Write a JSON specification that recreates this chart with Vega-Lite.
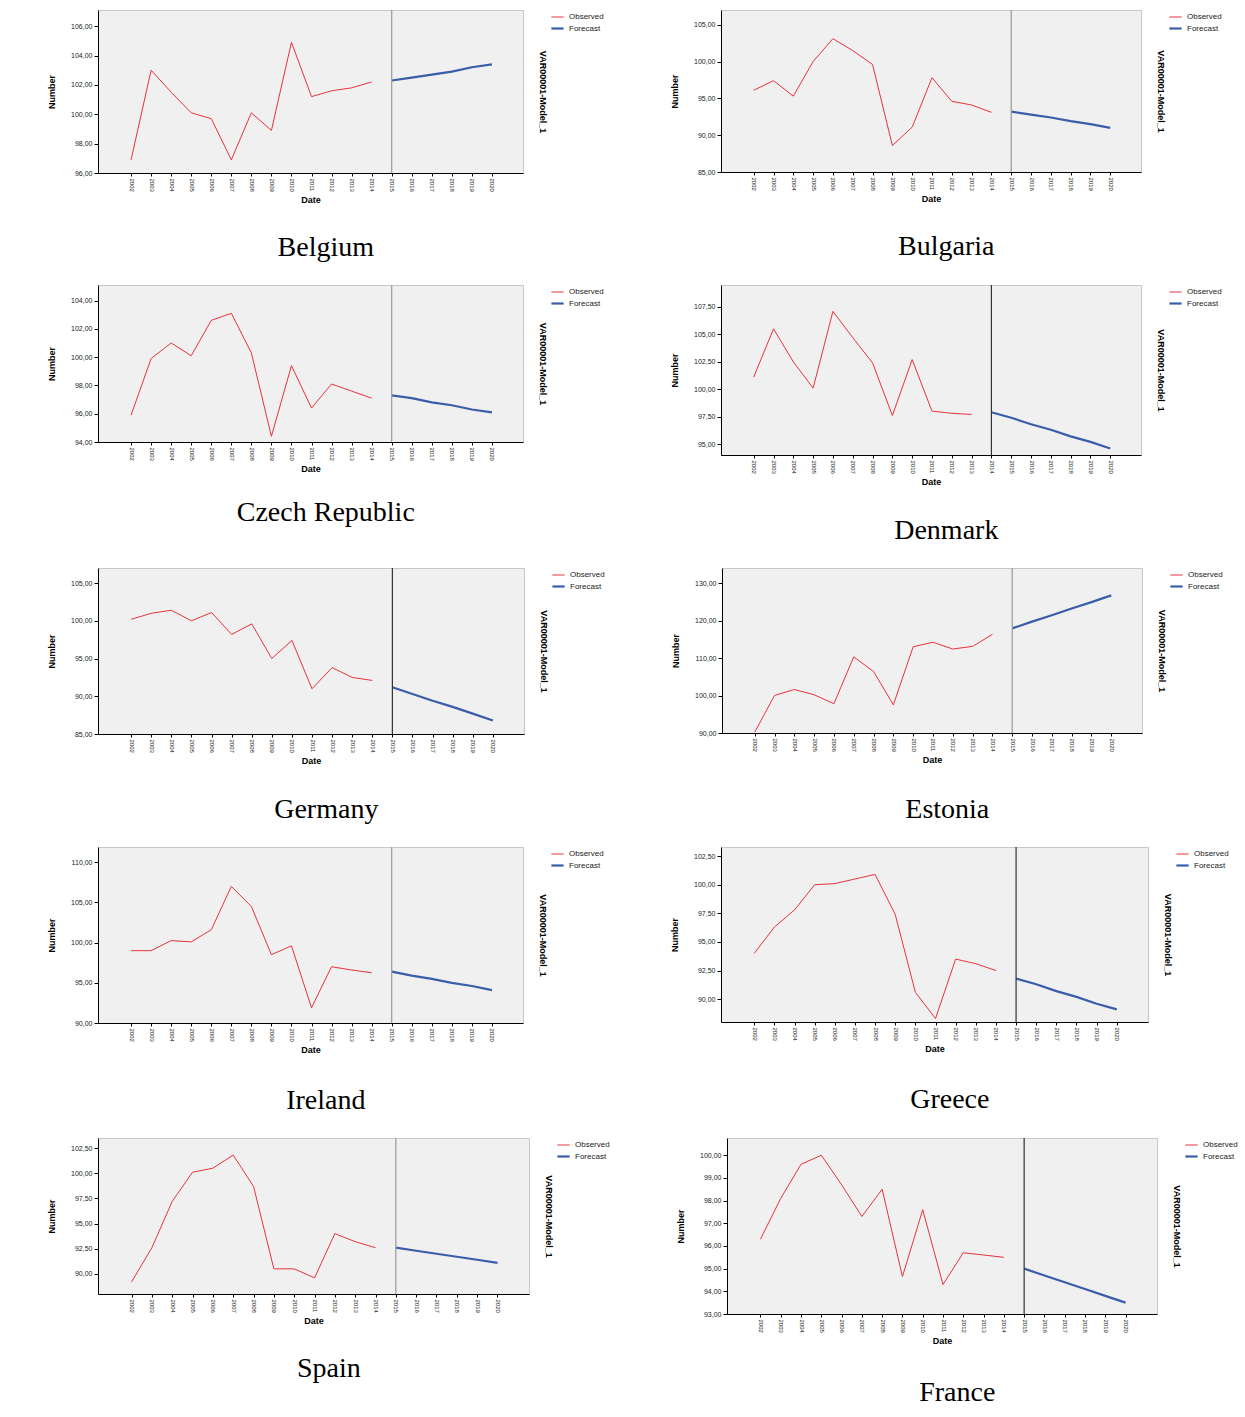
{
"$schema": "https://vega.github.io/schema/vega-lite/v6.json",
"background": "white",
"padding": {"left": 47, "top": 8, "right": 0, "bottom": 0},
"datasets": {"d": [
{"country":"Belgium","year":2002,"value":96.9,"series":"Observed"},
{"country":"Belgium","year":2003,"value":103.0,"series":"Observed"},
{"country":"Belgium","year":2004,"value":101.5,"series":"Observed"},
{"country":"Belgium","year":2005,"value":100.1,"series":"Observed"},
{"country":"Belgium","year":2006,"value":99.7,"series":"Observed"},
{"country":"Belgium","year":2007,"value":96.9,"series":"Observed"},
{"country":"Belgium","year":2008,"value":100.1,"series":"Observed"},
{"country":"Belgium","year":2009,"value":98.9,"series":"Observed"},
{"country":"Belgium","year":2010,"value":104.9,"series":"Observed"},
{"country":"Belgium","year":2011,"value":101.2,"series":"Observed"},
{"country":"Belgium","year":2012,"value":101.6,"series":"Observed"},
{"country":"Belgium","year":2013,"value":101.8,"series":"Observed"},
{"country":"Belgium","year":2014,"value":102.2,"series":"Observed"},
{"country":"Belgium","year":2015,"value":102.3,"series":"Forecast"},
{"country":"Belgium","year":2016,"value":102.5,"series":"Forecast"},
{"country":"Belgium","year":2017,"value":102.7,"series":"Forecast"},
{"country":"Belgium","year":2018,"value":102.9,"series":"Forecast"},
{"country":"Belgium","year":2019,"value":103.2,"series":"Forecast"},
{"country":"Belgium","year":2020,"value":103.4,"series":"Forecast"},
{"country":"Bulgaria","year":2002,"value":96.1,"series":"Observed"},
{"country":"Bulgaria","year":2003,"value":97.4,"series":"Observed"},
{"country":"Bulgaria","year":2004,"value":95.3,"series":"Observed"},
{"country":"Bulgaria","year":2005,"value":100.0,"series":"Observed"},
{"country":"Bulgaria","year":2006,"value":103.1,"series":"Observed"},
{"country":"Bulgaria","year":2007,"value":101.5,"series":"Observed"},
{"country":"Bulgaria","year":2008,"value":99.6,"series":"Observed"},
{"country":"Bulgaria","year":2009,"value":88.6,"series":"Observed"},
{"country":"Bulgaria","year":2010,"value":91.1,"series":"Observed"},
{"country":"Bulgaria","year":2011,"value":97.8,"series":"Observed"},
{"country":"Bulgaria","year":2012,"value":94.6,"series":"Observed"},
{"country":"Bulgaria","year":2013,"value":94.1,"series":"Observed"},
{"country":"Bulgaria","year":2014,"value":93.1,"series":"Observed"},
{"country":"Bulgaria","year":2015,"value":93.2,"series":"Forecast"},
{"country":"Bulgaria","year":2016,"value":92.8,"series":"Forecast"},
{"country":"Bulgaria","year":2017,"value":92.4,"series":"Forecast"},
{"country":"Bulgaria","year":2018,"value":91.9,"series":"Forecast"},
{"country":"Bulgaria","year":2019,"value":91.5,"series":"Forecast"},
{"country":"Bulgaria","year":2020,"value":91.0,"series":"Forecast"},
{"country":"Czech Republic","year":2002,"value":95.9,"series":"Observed"},
{"country":"Czech Republic","year":2003,"value":99.9,"series":"Observed"},
{"country":"Czech Republic","year":2004,"value":101.0,"series":"Observed"},
{"country":"Czech Republic","year":2005,"value":100.1,"series":"Observed"},
{"country":"Czech Republic","year":2006,"value":102.6,"series":"Observed"},
{"country":"Czech Republic","year":2007,"value":103.1,"series":"Observed"},
{"country":"Czech Republic","year":2008,"value":100.3,"series":"Observed"},
{"country":"Czech Republic","year":2009,"value":94.4,"series":"Observed"},
{"country":"Czech Republic","year":2010,"value":99.4,"series":"Observed"},
{"country":"Czech Republic","year":2011,"value":96.4,"series":"Observed"},
{"country":"Czech Republic","year":2012,"value":98.1,"series":"Observed"},
{"country":"Czech Republic","year":2013,"value":97.6,"series":"Observed"},
{"country":"Czech Republic","year":2014,"value":97.1,"series":"Observed"},
{"country":"Czech Republic","year":2015,"value":97.3,"series":"Forecast"},
{"country":"Czech Republic","year":2016,"value":97.1,"series":"Forecast"},
{"country":"Czech Republic","year":2017,"value":96.8,"series":"Forecast"},
{"country":"Czech Republic","year":2018,"value":96.6,"series":"Forecast"},
{"country":"Czech Republic","year":2019,"value":96.3,"series":"Forecast"},
{"country":"Czech Republic","year":2020,"value":96.1,"series":"Forecast"},
{"country":"Denmark","year":2002,"value":101.1,"series":"Observed"},
{"country":"Denmark","year":2003,"value":105.5,"series":"Observed"},
{"country":"Denmark","year":2004,"value":102.5,"series":"Observed"},
{"country":"Denmark","year":2005,"value":100.1,"series":"Observed"},
{"country":"Denmark","year":2006,"value":107.1,"series":"Observed"},
{"country":"Denmark","year":2007,"value":104.7,"series":"Observed"},
{"country":"Denmark","year":2008,"value":102.4,"series":"Observed"},
{"country":"Denmark","year":2009,"value":97.6,"series":"Observed"},
{"country":"Denmark","year":2010,"value":102.7,"series":"Observed"},
{"country":"Denmark","year":2011,"value":98.0,"series":"Observed"},
{"country":"Denmark","year":2012,"value":97.8,"series":"Observed"},
{"country":"Denmark","year":2013,"value":97.7,"series":"Observed"},
{"country":"Denmark","year":2014,"value":97.9,"series":"Forecast"},
{"country":"Denmark","year":2015,"value":97.4,"series":"Forecast"},
{"country":"Denmark","year":2016,"value":96.8,"series":"Forecast"},
{"country":"Denmark","year":2017,"value":96.3,"series":"Forecast"},
{"country":"Denmark","year":2018,"value":95.7,"series":"Forecast"},
{"country":"Denmark","year":2019,"value":95.2,"series":"Forecast"},
{"country":"Denmark","year":2020,"value":94.6,"series":"Forecast"},
{"country":"Germany","year":2002,"value":100.2,"series":"Observed"},
{"country":"Germany","year":2003,"value":101.0,"series":"Observed"},
{"country":"Germany","year":2004,"value":101.4,"series":"Observed"},
{"country":"Germany","year":2005,"value":100.0,"series":"Observed"},
{"country":"Germany","year":2006,"value":101.1,"series":"Observed"},
{"country":"Germany","year":2007,"value":98.2,"series":"Observed"},
{"country":"Germany","year":2008,"value":99.6,"series":"Observed"},
{"country":"Germany","year":2009,"value":95.0,"series":"Observed"},
{"country":"Germany","year":2010,"value":97.4,"series":"Observed"},
{"country":"Germany","year":2011,"value":91.0,"series":"Observed"},
{"country":"Germany","year":2012,"value":93.8,"series":"Observed"},
{"country":"Germany","year":2013,"value":92.5,"series":"Observed"},
{"country":"Germany","year":2014,"value":92.1,"series":"Observed"},
{"country":"Germany","year":2015,"value":91.2,"series":"Forecast"},
{"country":"Germany","year":2016,"value":90.3,"series":"Forecast"},
{"country":"Germany","year":2017,"value":89.4,"series":"Forecast"},
{"country":"Germany","year":2018,"value":88.6,"series":"Forecast"},
{"country":"Germany","year":2019,"value":87.7,"series":"Forecast"},
{"country":"Germany","year":2020,"value":86.8,"series":"Forecast"},
{"country":"Estonia","year":2002,"value":90.2,"series":"Observed"},
{"country":"Estonia","year":2003,"value":100.0,"series":"Observed"},
{"country":"Estonia","year":2004,"value":101.6,"series":"Observed"},
{"country":"Estonia","year":2005,"value":100.2,"series":"Observed"},
{"country":"Estonia","year":2006,"value":97.8,"series":"Observed"},
{"country":"Estonia","year":2007,"value":110.3,"series":"Observed"},
{"country":"Estonia","year":2008,"value":106.4,"series":"Observed"},
{"country":"Estonia","year":2009,"value":97.5,"series":"Observed"},
{"country":"Estonia","year":2010,"value":113.0,"series":"Observed"},
{"country":"Estonia","year":2011,"value":114.2,"series":"Observed"},
{"country":"Estonia","year":2012,"value":112.4,"series":"Observed"},
{"country":"Estonia","year":2013,"value":113.1,"series":"Observed"},
{"country":"Estonia","year":2014,"value":116.3,"series":"Observed"},
{"country":"Estonia","year":2015,"value":117.9,"series":"Forecast"},
{"country":"Estonia","year":2016,"value":119.7,"series":"Forecast"},
{"country":"Estonia","year":2017,"value":121.4,"series":"Forecast"},
{"country":"Estonia","year":2018,"value":123.2,"series":"Forecast"},
{"country":"Estonia","year":2019,"value":124.9,"series":"Forecast"},
{"country":"Estonia","year":2020,"value":126.7,"series":"Forecast"},
{"country":"Ireland","year":2002,"value":99.0,"series":"Observed"},
{"country":"Ireland","year":2003,"value":99.0,"series":"Observed"},
{"country":"Ireland","year":2004,"value":100.25,"series":"Observed"},
{"country":"Ireland","year":2005,"value":100.1,"series":"Observed"},
{"country":"Ireland","year":2006,"value":101.6,"series":"Observed"},
{"country":"Ireland","year":2007,"value":107.0,"series":"Observed"},
{"country":"Ireland","year":2008,"value":104.5,"series":"Observed"},
{"country":"Ireland","year":2009,"value":98.5,"series":"Observed"},
{"country":"Ireland","year":2010,"value":99.6,"series":"Observed"},
{"country":"Ireland","year":2011,"value":91.9,"series":"Observed"},
{"country":"Ireland","year":2012,"value":97.0,"series":"Observed"},
{"country":"Ireland","year":2013,"value":96.6,"series":"Observed"},
{"country":"Ireland","year":2014,"value":96.25,"series":"Observed"},
{"country":"Ireland","year":2015,"value":96.4,"series":"Forecast"},
{"country":"Ireland","year":2016,"value":95.9,"series":"Forecast"},
{"country":"Ireland","year":2017,"value":95.5,"series":"Forecast"},
{"country":"Ireland","year":2018,"value":95.0,"series":"Forecast"},
{"country":"Ireland","year":2019,"value":94.6,"series":"Forecast"},
{"country":"Ireland","year":2020,"value":94.1,"series":"Forecast"},
{"country":"Greece","year":2002,"value":94.0,"series":"Observed"},
{"country":"Greece","year":2003,"value":96.3,"series":"Observed"},
{"country":"Greece","year":2004,"value":97.8,"series":"Observed"},
{"country":"Greece","year":2005,"value":100.0,"series":"Observed"},
{"country":"Greece","year":2006,"value":100.1,"series":"Observed"},
{"country":"Greece","year":2007,"value":100.5,"series":"Observed"},
{"country":"Greece","year":2008,"value":100.9,"series":"Observed"},
{"country":"Greece","year":2009,"value":97.4,"series":"Observed"},
{"country":"Greece","year":2010,"value":90.6,"series":"Observed"},
{"country":"Greece","year":2011,"value":88.3,"series":"Observed"},
{"country":"Greece","year":2012,"value":93.5,"series":"Observed"},
{"country":"Greece","year":2013,"value":93.1,"series":"Observed"},
{"country":"Greece","year":2014,"value":92.5,"series":"Observed"},
{"country":"Greece","year":2015,"value":91.8,"series":"Forecast"},
{"country":"Greece","year":2016,"value":91.3,"series":"Forecast"},
{"country":"Greece","year":2017,"value":90.7,"series":"Forecast"},
{"country":"Greece","year":2018,"value":90.2,"series":"Forecast"},
{"country":"Greece","year":2019,"value":89.6,"series":"Forecast"},
{"country":"Greece","year":2020,"value":89.1,"series":"Forecast"},
{"country":"Spain","year":2002,"value":89.2,"series":"Observed"},
{"country":"Spain","year":2003,"value":92.6,"series":"Observed"},
{"country":"Spain","year":2004,"value":97.2,"series":"Observed"},
{"country":"Spain","year":2005,"value":100.1,"series":"Observed"},
{"country":"Spain","year":2006,"value":100.5,"series":"Observed"},
{"country":"Spain","year":2007,"value":101.8,"series":"Observed"},
{"country":"Spain","year":2008,"value":98.7,"series":"Observed"},
{"country":"Spain","year":2009,"value":90.5,"series":"Observed"},
{"country":"Spain","year":2010,"value":90.5,"series":"Observed"},
{"country":"Spain","year":2011,"value":89.6,"series":"Observed"},
{"country":"Spain","year":2012,"value":94.0,"series":"Observed"},
{"country":"Spain","year":2013,"value":93.2,"series":"Observed"},
{"country":"Spain","year":2014,"value":92.6,"series":"Observed"},
{"country":"Spain","year":2015,"value":92.6,"series":"Forecast"},
{"country":"Spain","year":2016,"value":92.3,"series":"Forecast"},
{"country":"Spain","year":2017,"value":92.0,"series":"Forecast"},
{"country":"Spain","year":2018,"value":91.7,"series":"Forecast"},
{"country":"Spain","year":2019,"value":91.4,"series":"Forecast"},
{"country":"Spain","year":2020,"value":91.1,"series":"Forecast"},
{"country":"France","year":2002,"value":96.3,"series":"Observed"},
{"country":"France","year":2003,"value":98.1,"series":"Observed"},
{"country":"France","year":2004,"value":99.6,"series":"Observed"},
{"country":"France","year":2005,"value":100.0,"series":"Observed"},
{"country":"France","year":2006,"value":98.7,"series":"Observed"},
{"country":"France","year":2007,"value":97.3,"series":"Observed"},
{"country":"France","year":2008,"value":98.5,"series":"Observed"},
{"country":"France","year":2009,"value":94.65,"series":"Observed"},
{"country":"France","year":2010,"value":97.6,"series":"Observed"},
{"country":"France","year":2011,"value":94.3,"series":"Observed"},
{"country":"France","year":2012,"value":95.7,"series":"Observed"},
{"country":"France","year":2013,"value":95.6,"series":"Observed"},
{"country":"France","year":2014,"value":95.5,"series":"Observed"},
{"country":"France","year":2015,"value":95.0,"series":"Forecast"},
{"country":"France","year":2016,"value":94.7,"series":"Forecast"},
{"country":"France","year":2017,"value":94.4,"series":"Forecast"},
{"country":"France","year":2018,"value":94.1,"series":"Forecast"},
{"country":"France","year":2019,"value":93.8,"series":"Forecast"},
{"country":"France","year":2020,"value":93.5,"series":"Forecast"}
]},
"data": {"name": "d"},
"spacing": 20,
"resolve": {"scale": {"color": "independent", "strokeWidth": "independent"}},
"vconcat": [
{"hconcat": [
{"title": {"text": "Belgium", "offset": 30}, "width": 425, "height": 163, "transform": [{"filter": "datum.country === 'Belgium'"}],
 "layer": [
  {"mark": {"type": "line"}, "encoding": {"x": {"field": "year", "type": "quantitative", "scale": {"domain": [2000.35, 2021.55], "nice": false, "zero": false}, "title": "Date", "axis": {"values": [2002,2003,2004,2005,2006,2007,2008,2009,2010,2011,2012,2013,2014,2015,2016,2017,2018,2019,2020], "labelOverlap": false, "tickCount": 19}},
   "y": {"field": "value", "type": "quantitative", "title": "Number", "scale": {"domain": [96, 107.1], "nice": false, "zero": false}, "axis": {"values": [96,98,100,102,104,106]}},
   "color": {"field": "series", "type": "nominal", "scale": {"domain": ["Observed","Forecast"], "range": ["#e8323c","#3a5daa"]}},
   "strokeWidth": {"field": "series", "type": "nominal", "scale": {"domain": ["Observed","Forecast"], "range": [1,2.2]}}}},
  {"transform": [{"filter": "datum.series === 'Forecast'"}, {"aggregate": [{"op": "min", "field": "year", "as": "year"}]}], "mark": {"type": "rule", "color": "#999999", "strokeWidth": 1.2}, "encoding": {"x": {"field": "year", "type": "quantitative", "title": "Date", "axis": {"values": [2002,2003,2004,2005,2006,2007,2008,2009,2010,2011,2012,2013,2014,2015,2016,2017,2018,2019,2020], "labelOverlap": false, "tickCount": 19}}}},
  {"mark": {"type": "point", "opacity": 0}, "encoding": {"x": {"field": "year", "type": "quantitative", "title": "Date", "axis": {"values": [2002,2003,2004,2005,2006,2007,2008,2009,2010,2011,2012,2013,2014,2015,2016,2017,2018,2019,2020], "labelOverlap": false, "tickCount": 19}}, "y": {"field": "value", "type": "quantitative", "axis": {"orient": "right", "title": "VAR00001-Model_1", "labels": false, "ticks": false, "domain": false}}}}
 ], "resolve": {"axis": {"y": "independent"}}},
{"title": {"text": "Bulgaria", "offset": 30}, "width": 420, "height": 162, "transform": [{"filter": "datum.country === 'Bulgaria'"}],
 "layer": [
  {"mark": {"type": "line"}, "encoding": {"x": {"field": "year", "type": "quantitative", "scale": {"domain": [2000.35, 2021.55], "nice": false, "zero": false}, "title": "Date", "axis": {"values": [2002,2003,2004,2005,2006,2007,2008,2009,2010,2011,2012,2013,2014,2015,2016,2017,2018,2019,2020], "labelOverlap": false, "tickCount": 19}},
   "y": {"field": "value", "type": "quantitative", "title": "Number", "scale": {"domain": [85, 107], "nice": false, "zero": false}, "axis": {"values": [85,90,95,100,105]}},
   "color": {"field": "series", "type": "nominal", "scale": {"domain": ["Observed","Forecast"], "range": ["#e8323c","#3a5daa"]}},
   "strokeWidth": {"field": "series", "type": "nominal", "scale": {"domain": ["Observed","Forecast"], "range": [1,2.2]}}}},
  {"transform": [{"filter": "datum.series === 'Forecast'"}, {"aggregate": [{"op": "min", "field": "year", "as": "year"}]}], "mark": {"type": "rule", "color": "#999999", "strokeWidth": 1.2}, "encoding": {"x": {"field": "year", "type": "quantitative", "title": "Date", "axis": {"values": [2002,2003,2004,2005,2006,2007,2008,2009,2010,2011,2012,2013,2014,2015,2016,2017,2018,2019,2020], "labelOverlap": false, "tickCount": 19}}}},
  {"mark": {"type": "point", "opacity": 0}, "encoding": {"x": {"field": "year", "type": "quantitative", "title": "Date", "axis": {"values": [2002,2003,2004,2005,2006,2007,2008,2009,2010,2011,2012,2013,2014,2015,2016,2017,2018,2019,2020], "labelOverlap": false, "tickCount": 19}}, "y": {"field": "value", "type": "quantitative", "axis": {"orient": "right", "title": "VAR00001-Model_1", "labels": false, "ticks": false, "domain": false}}}}
 ], "resolve": {"axis": {"y": "independent"}}}
], "spacing": 65, "resolve": {"scale": {"color": "independent", "strokeWidth": "independent"}}},
{"hconcat": [
{"title": {"text": "Czech Republic", "offset": 26}, "width": 425, "height": 157, "transform": [{"filter": "datum.country === 'Czech Republic'"}],
 "layer": [
  {"mark": {"type": "line"}, "encoding": {"x": {"field": "year", "type": "quantitative", "scale": {"domain": [2000.35, 2021.55], "nice": false, "zero": false}, "title": "Date", "axis": {"values": [2002,2003,2004,2005,2006,2007,2008,2009,2010,2011,2012,2013,2014,2015,2016,2017,2018,2019,2020], "labelOverlap": false, "tickCount": 19}},
   "y": {"field": "value", "type": "quantitative", "title": "Number", "scale": {"domain": [94, 105.1], "nice": false, "zero": false}, "axis": {"values": [94,96,98,100,102,104]}},
   "color": {"field": "series", "type": "nominal", "scale": {"domain": ["Observed","Forecast"], "range": ["#e8323c","#3a5daa"]}},
   "strokeWidth": {"field": "series", "type": "nominal", "scale": {"domain": ["Observed","Forecast"], "range": [1,2.2]}}}},
  {"transform": [{"filter": "datum.series === 'Forecast'"}, {"aggregate": [{"op": "min", "field": "year", "as": "year"}]}], "mark": {"type": "rule", "color": "#999999", "strokeWidth": 1.2}, "encoding": {"x": {"field": "year", "type": "quantitative", "title": "Date", "axis": {"values": [2002,2003,2004,2005,2006,2007,2008,2009,2010,2011,2012,2013,2014,2015,2016,2017,2018,2019,2020], "labelOverlap": false, "tickCount": 19}}}},
  {"mark": {"type": "point", "opacity": 0}, "encoding": {"x": {"field": "year", "type": "quantitative", "title": "Date", "axis": {"values": [2002,2003,2004,2005,2006,2007,2008,2009,2010,2011,2012,2013,2014,2015,2016,2017,2018,2019,2020], "labelOverlap": false, "tickCount": 19}}, "y": {"field": "value", "type": "quantitative", "axis": {"orient": "right", "title": "VAR00001-Model_1", "labels": false, "ticks": false, "domain": false}}}}
 ], "resolve": {"axis": {"y": "independent"}}},
{"title": {"text": "Denmark", "offset": 31}, "width": 420, "height": 170, "transform": [{"filter": "datum.country === 'Denmark'"}],
 "layer": [
  {"mark": {"type": "line"}, "encoding": {"x": {"field": "year", "type": "quantitative", "scale": {"domain": [2000.35, 2021.55], "nice": false, "zero": false}, "title": "Date", "axis": {"values": [2002,2003,2004,2005,2006,2007,2008,2009,2010,2011,2012,2013,2014,2015,2016,2017,2018,2019,2020], "labelOverlap": false, "tickCount": 19}},
   "y": {"field": "value", "type": "quantitative", "title": "Number", "scale": {"domain": [94, 109.5], "nice": false, "zero": false}, "axis": {"values": [95,97.5,100,102.5,105,107.5]}},
   "color": {"field": "series", "type": "nominal", "scale": {"domain": ["Observed","Forecast"], "range": ["#e8323c","#3a5daa"]}},
   "strokeWidth": {"field": "series", "type": "nominal", "scale": {"domain": ["Observed","Forecast"], "range": [1,2.2]}}}},
  {"transform": [{"filter": "datum.series === 'Forecast'"}, {"aggregate": [{"op": "min", "field": "year", "as": "year"}]}], "mark": {"type": "rule", "color": "#333333", "strokeWidth": 1.2}, "encoding": {"x": {"field": "year", "type": "quantitative", "title": "Date", "axis": {"values": [2002,2003,2004,2005,2006,2007,2008,2009,2010,2011,2012,2013,2014,2015,2016,2017,2018,2019,2020], "labelOverlap": false, "tickCount": 19}}}},
  {"mark": {"type": "point", "opacity": 0}, "encoding": {"x": {"field": "year", "type": "quantitative", "title": "Date", "axis": {"values": [2002,2003,2004,2005,2006,2007,2008,2009,2010,2011,2012,2013,2014,2015,2016,2017,2018,2019,2020], "labelOverlap": false, "tickCount": 19}}, "y": {"field": "value", "type": "quantitative", "axis": {"orient": "right", "title": "VAR00001-Model_1", "labels": false, "ticks": false, "domain": false}}}}
 ], "resolve": {"axis": {"y": "independent"}}}
], "spacing": 65, "resolve": {"scale": {"color": "independent", "strokeWidth": "independent"}}},
{"hconcat": [
{"title": {"text": "Germany", "offset": 31}, "width": 426, "height": 166, "transform": [{"filter": "datum.country === 'Germany'"}],
 "layer": [
  {"mark": {"type": "line"}, "encoding": {"x": {"field": "year", "type": "quantitative", "scale": {"domain": [2000.35, 2021.55], "nice": false, "zero": false}, "title": "Date", "axis": {"values": [2002,2003,2004,2005,2006,2007,2008,2009,2010,2011,2012,2013,2014,2015,2016,2017,2018,2019,2020], "labelOverlap": false, "tickCount": 19}},
   "y": {"field": "value", "type": "quantitative", "title": "Number", "scale": {"domain": [85, 107], "nice": false, "zero": false}, "axis": {"values": [85,90,95,100,105]}},
   "color": {"field": "series", "type": "nominal", "scale": {"domain": ["Observed","Forecast"], "range": ["#e8323c","#3a5daa"]}},
   "strokeWidth": {"field": "series", "type": "nominal", "scale": {"domain": ["Observed","Forecast"], "range": [1,2.2]}}}},
  {"transform": [{"filter": "datum.series === 'Forecast'"}, {"aggregate": [{"op": "min", "field": "year", "as": "year"}]}], "mark": {"type": "rule", "color": "#333333", "strokeWidth": 1.2}, "encoding": {"x": {"field": "year", "type": "quantitative", "title": "Date", "axis": {"values": [2002,2003,2004,2005,2006,2007,2008,2009,2010,2011,2012,2013,2014,2015,2016,2017,2018,2019,2020], "labelOverlap": false, "tickCount": 19}}}},
  {"mark": {"type": "point", "opacity": 0}, "encoding": {"x": {"field": "year", "type": "quantitative", "title": "Date", "axis": {"values": [2002,2003,2004,2005,2006,2007,2008,2009,2010,2011,2012,2013,2014,2015,2016,2017,2018,2019,2020], "labelOverlap": false, "tickCount": 19}}, "y": {"field": "value", "type": "quantitative", "axis": {"orient": "right", "title": "VAR00001-Model_1", "labels": false, "ticks": false, "domain": false}}}}
 ], "resolve": {"axis": {"y": "independent"}}},
{"title": {"text": "Estonia", "offset": 32}, "width": 420, "height": 165, "transform": [{"filter": "datum.country === 'Estonia'"}],
 "layer": [
  {"mark": {"type": "line"}, "encoding": {"x": {"field": "year", "type": "quantitative", "scale": {"domain": [2000.35, 2021.55], "nice": false, "zero": false}, "title": "Date", "axis": {"values": [2002,2003,2004,2005,2006,2007,2008,2009,2010,2011,2012,2013,2014,2015,2016,2017,2018,2019,2020], "labelOverlap": false, "tickCount": 19}},
   "y": {"field": "value", "type": "quantitative", "title": "Number", "scale": {"domain": [90, 134], "nice": false, "zero": false}, "axis": {"values": [90,100,110,120,130]}},
   "color": {"field": "series", "type": "nominal", "scale": {"domain": ["Observed","Forecast"], "range": ["#e8323c","#3a5daa"]}},
   "strokeWidth": {"field": "series", "type": "nominal", "scale": {"domain": ["Observed","Forecast"], "range": [1,2.2]}}}},
  {"transform": [{"filter": "datum.series === 'Forecast'"}, {"aggregate": [{"op": "min", "field": "year", "as": "year"}]}], "mark": {"type": "rule", "color": "#999999", "strokeWidth": 1.2}, "encoding": {"x": {"field": "year", "type": "quantitative", "title": "Date", "axis": {"values": [2002,2003,2004,2005,2006,2007,2008,2009,2010,2011,2012,2013,2014,2015,2016,2017,2018,2019,2020], "labelOverlap": false, "tickCount": 19}}}},
  {"mark": {"type": "point", "opacity": 0}, "encoding": {"x": {"field": "year", "type": "quantitative", "title": "Date", "axis": {"values": [2002,2003,2004,2005,2006,2007,2008,2009,2010,2011,2012,2013,2014,2015,2016,2017,2018,2019,2020], "labelOverlap": false, "tickCount": 19}}, "y": {"field": "value", "type": "quantitative", "axis": {"orient": "right", "title": "VAR00001-Model_1", "labels": false, "ticks": false, "domain": false}}}}
 ], "resolve": {"axis": {"y": "independent"}}}
], "spacing": 65, "resolve": {"scale": {"color": "independent", "strokeWidth": "independent"}}},
{"hconcat": [
{"title": {"text": "Ireland", "offset": 33}, "width": 425, "height": 176, "transform": [{"filter": "datum.country === 'Ireland'"}],
 "layer": [
  {"mark": {"type": "line"}, "encoding": {"x": {"field": "year", "type": "quantitative", "scale": {"domain": [2000.35, 2021.55], "nice": false, "zero": false}, "title": "Date", "axis": {"values": [2002,2003,2004,2005,2006,2007,2008,2009,2010,2011,2012,2013,2014,2015,2016,2017,2018,2019,2020], "labelOverlap": false, "tickCount": 19}},
   "y": {"field": "value", "type": "quantitative", "title": "Number", "scale": {"domain": [90, 111.9], "nice": false, "zero": false}, "axis": {"values": [90,95,100,105,110]}},
   "color": {"field": "series", "type": "nominal", "scale": {"domain": ["Observed","Forecast"], "range": ["#e8323c","#3a5daa"]}},
   "strokeWidth": {"field": "series", "type": "nominal", "scale": {"domain": ["Observed","Forecast"], "range": [1,2.2]}}}},
  {"transform": [{"filter": "datum.series === 'Forecast'"}, {"aggregate": [{"op": "min", "field": "year", "as": "year"}]}], "mark": {"type": "rule", "color": "#999999", "strokeWidth": 1.2}, "encoding": {"x": {"field": "year", "type": "quantitative", "title": "Date", "axis": {"values": [2002,2003,2004,2005,2006,2007,2008,2009,2010,2011,2012,2013,2014,2015,2016,2017,2018,2019,2020], "labelOverlap": false, "tickCount": 19}}}},
  {"mark": {"type": "point", "opacity": 0}, "encoding": {"x": {"field": "year", "type": "quantitative", "title": "Date", "axis": {"values": [2002,2003,2004,2005,2006,2007,2008,2009,2010,2011,2012,2013,2014,2015,2016,2017,2018,2019,2020], "labelOverlap": false, "tickCount": 19}}, "y": {"field": "value", "type": "quantitative", "axis": {"orient": "right", "title": "VAR00001-Model_1", "labels": false, "ticks": false, "domain": false}}}}
 ], "resolve": {"axis": {"y": "independent"}}},
{"title": {"text": "Greece", "offset": 33}, "width": 427, "height": 175, "transform": [{"filter": "datum.country === 'Greece'"}],
 "layer": [
  {"mark": {"type": "line"}, "encoding": {"x": {"field": "year", "type": "quantitative", "scale": {"domain": [2000.35, 2021.55], "nice": false, "zero": false}, "title": "Date", "axis": {"values": [2002,2003,2004,2005,2006,2007,2008,2009,2010,2011,2012,2013,2014,2015,2016,2017,2018,2019,2020], "labelOverlap": false, "tickCount": 19}},
   "y": {"field": "value", "type": "quantitative", "title": "Number", "scale": {"domain": [88, 103.3], "nice": false, "zero": false}, "axis": {"values": [90,92.5,95,97.5,100,102.5]}},
   "color": {"field": "series", "type": "nominal", "scale": {"domain": ["Observed","Forecast"], "range": ["#e8323c","#3a5daa"]}},
   "strokeWidth": {"field": "series", "type": "nominal", "scale": {"domain": ["Observed","Forecast"], "range": [1,2.2]}}}},
  {"transform": [{"filter": "datum.series === 'Forecast'"}, {"aggregate": [{"op": "min", "field": "year", "as": "year"}]}], "mark": {"type": "rule", "color": "#333333", "strokeWidth": 1.2}, "encoding": {"x": {"field": "year", "type": "quantitative", "title": "Date", "axis": {"values": [2002,2003,2004,2005,2006,2007,2008,2009,2010,2011,2012,2013,2014,2015,2016,2017,2018,2019,2020], "labelOverlap": false, "tickCount": 19}}}},
  {"mark": {"type": "point", "opacity": 0}, "encoding": {"x": {"field": "year", "type": "quantitative", "title": "Date", "axis": {"values": [2002,2003,2004,2005,2006,2007,2008,2009,2010,2011,2012,2013,2014,2015,2016,2017,2018,2019,2020], "labelOverlap": false, "tickCount": 19}}, "y": {"field": "value", "type": "quantitative", "axis": {"orient": "right", "title": "VAR00001-Model_1", "labels": false, "ticks": false, "domain": false}}}}
 ], "resolve": {"axis": {"y": "independent"}}}
], "spacing": 65, "resolve": {"scale": {"color": "independent", "strokeWidth": "independent"}}},
{"hconcat": [
{"title": {"text": "Spain", "offset": 30}, "width": 431, "height": 156, "transform": [{"filter": "datum.country === 'Spain'"}],
 "layer": [
  {"mark": {"type": "line"}, "encoding": {"x": {"field": "year", "type": "quantitative", "scale": {"domain": [2000.35, 2021.55], "nice": false, "zero": false}, "title": "Date", "axis": {"values": [2002,2003,2004,2005,2006,2007,2008,2009,2010,2011,2012,2013,2014,2015,2016,2017,2018,2019,2020], "labelOverlap": false, "tickCount": 19}},
   "y": {"field": "value", "type": "quantitative", "title": "Number", "scale": {"domain": [88, 103.5], "nice": false, "zero": false}, "axis": {"values": [90,92.5,95,97.5,100,102.5]}},
   "color": {"field": "series", "type": "nominal", "scale": {"domain": ["Observed","Forecast"], "range": ["#e8323c","#3a5daa"]}},
   "strokeWidth": {"field": "series", "type": "nominal", "scale": {"domain": ["Observed","Forecast"], "range": [1,2.2]}}}},
  {"transform": [{"filter": "datum.series === 'Forecast'"}, {"aggregate": [{"op": "min", "field": "year", "as": "year"}]}], "mark": {"type": "rule", "color": "#999999", "strokeWidth": 1.2}, "encoding": {"x": {"field": "year", "type": "quantitative", "title": "Date", "axis": {"values": [2002,2003,2004,2005,2006,2007,2008,2009,2010,2011,2012,2013,2014,2015,2016,2017,2018,2019,2020], "labelOverlap": false, "tickCount": 19}}}},
  {"mark": {"type": "point", "opacity": 0}, "encoding": {"x": {"field": "year", "type": "quantitative", "title": "Date", "axis": {"values": [2002,2003,2004,2005,2006,2007,2008,2009,2010,2011,2012,2013,2014,2015,2016,2017,2018,2019,2020], "labelOverlap": false, "tickCount": 19}}, "y": {"field": "value", "type": "quantitative", "axis": {"orient": "right", "title": "VAR00001-Model_1", "labels": false, "ticks": false, "domain": false}}}}
 ], "resolve": {"axis": {"y": "independent"}}},
{"title": {"text": "France", "offset": 34}, "width": 430, "height": 176, "transform": [{"filter": "datum.country === 'France'"}],
 "layer": [
  {"mark": {"type": "line"}, "encoding": {"x": {"field": "year", "type": "quantitative", "scale": {"domain": [2000.35, 2021.55], "nice": false, "zero": false}, "title": "Date", "axis": {"values": [2002,2003,2004,2005,2006,2007,2008,2009,2010,2011,2012,2013,2014,2015,2016,2017,2018,2019,2020], "labelOverlap": false, "tickCount": 19}},
   "y": {"field": "value", "type": "quantitative", "title": "Number", "scale": {"domain": [93, 100.76], "nice": false, "zero": false}, "axis": {"values": [93,94,95,96,97,98,99,100]}},
   "color": {"field": "series", "type": "nominal", "scale": {"domain": ["Observed","Forecast"], "range": ["#e8323c","#3a5daa"]}},
   "strokeWidth": {"field": "series", "type": "nominal", "scale": {"domain": ["Observed","Forecast"], "range": [1,2.2]}}}},
  {"transform": [{"filter": "datum.series === 'Forecast'"}, {"aggregate": [{"op": "min", "field": "year", "as": "year"}]}], "mark": {"type": "rule", "color": "#333333", "strokeWidth": 1.2}, "encoding": {"x": {"field": "year", "type": "quantitative", "title": "Date", "axis": {"values": [2002,2003,2004,2005,2006,2007,2008,2009,2010,2011,2012,2013,2014,2015,2016,2017,2018,2019,2020], "labelOverlap": false, "tickCount": 19}}}},
  {"mark": {"type": "point", "opacity": 0}, "encoding": {"x": {"field": "year", "type": "quantitative", "title": "Date", "axis": {"values": [2002,2003,2004,2005,2006,2007,2008,2009,2010,2011,2012,2013,2014,2015,2016,2017,2018,2019,2020], "labelOverlap": false, "tickCount": 19}}, "y": {"field": "value", "type": "quantitative", "axis": {"orient": "right", "title": "VAR00001-Model_1", "labels": false, "ticks": false, "domain": false}}}}
 ], "resolve": {"axis": {"y": "independent"}}}
], "spacing": 65, "resolve": {"scale": {"color": "independent", "strokeWidth": "independent"}}}
],
"config": {
 "view": {"fill": "#f0f0f0", "stroke": "#c8c8c8"},
 "font": "Liberation Sans",
 "axis": {"grid": false, "labelFont": "Liberation Sans", "titleFont": "Liberation Sans", "labelFontSize": 7, "titleFontSize": 9, "titleFontWeight": "bold", "titleColor": "#000", "labelColor": "#222", "domainColor": "#000", "tickColor": "#000", "tickSize": 4, "labelPadding": 2},
 "axisX": {"labelAngle": 90, "labelFontSize": 6, "tickSize": 3, "titlePadding": 4, "format": "d", "labelFlush": false, "labelOverlap": false},
 "axisY": {"labelExpr": "replace(format(datum.value, '.2f'), '.', ',')", "titlePadding": 14},
 "legend": {"orient": "right", "title": null, "symbolType": "stroke", "symbolSize": 150, "labelFontSize": 8, "labelFont": "Liberation Sans", "rowPadding": 0, "offset": 4, "labelColor": "#222"},
 "title": {"font": "Liberation Serif", "fontSize": 28, "fontWeight": "normal", "color": "#000", "orient": "bottom", "anchor": "middle", "frame": "bounds"}
}
}
